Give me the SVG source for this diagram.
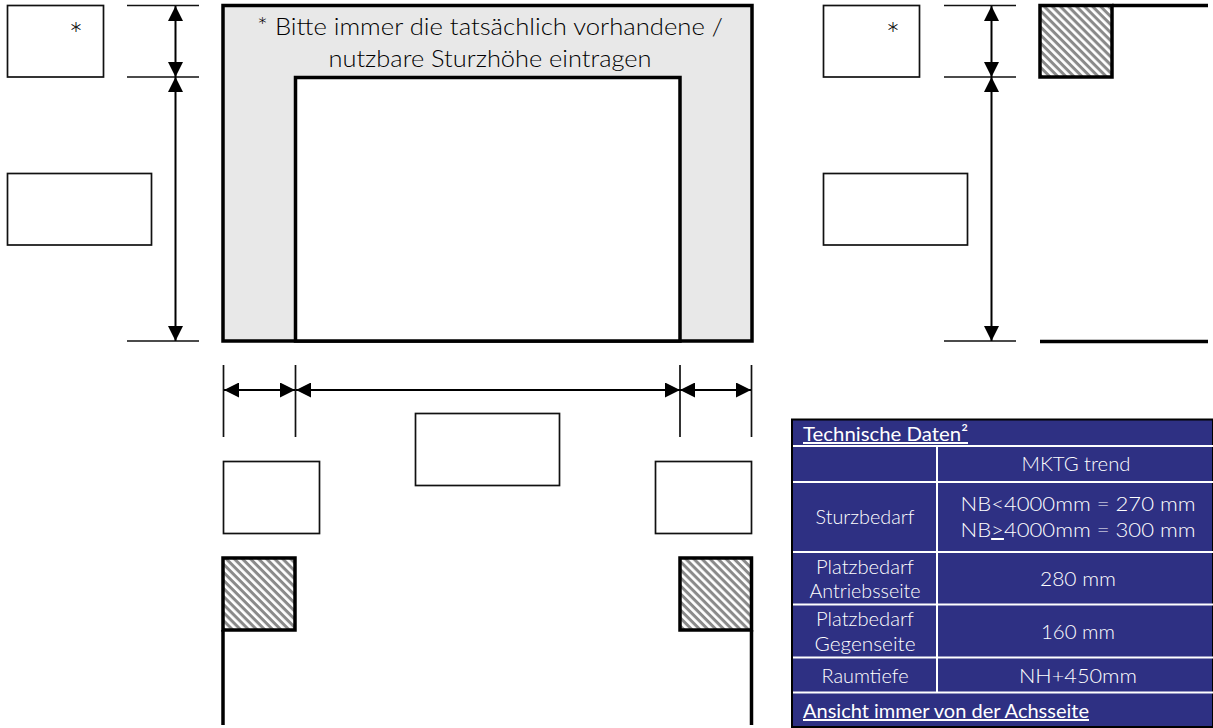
<svg xmlns="http://www.w3.org/2000/svg" width="1213" height="728" viewBox="0 0 1213 728">
<style>
text{font-family:"Lato","Noto Sans","Liberation Sans",sans-serif;font-weight:300}
.box{fill:#fff;stroke:#111;stroke-width:1.7}
.thin{fill:none;stroke:#111;stroke-width:1.7}
.dim{fill:none;stroke:#000;stroke-width:2;marker-start:url(#arr);marker-end:url(#arr)}
.thick{fill:none;stroke:#000;stroke-width:3.5}
.hatch{fill:url(#h);stroke:#000;stroke-width:3.5}
.star{font-size:34px;fill:#000;text-anchor:middle;font-weight:300}
.note{font-size:24px;fill:#000;text-anchor:middle}
.c{font-size:20px;fill:#fff;text-anchor:middle}
.h{font-size:20px;fill:#fff;text-decoration:underline;font-weight:400}
.w{fill:none;stroke:#fff;stroke-width:2}
</style>
<defs>
<marker id="arr" viewBox="0 0 15 15" refX="15" refY="7.500" markerUnits="userSpaceOnUse" markerWidth="15" markerHeight="15" orient="auto-start-reverse"><path d="M15 7.500L0 0V15Z" fill="#000"/></marker>
<pattern id="h" width="5.700" height="5.700" patternUnits="userSpaceOnUse" patternTransform="rotate(45)"><rect width="5.700" height="5.700" fill="#fff"/><rect width="5.700" height="3" fill="#8a8a8a"/></pattern>
</defs>
<g id="frame">
<rect x="223" y="5.500" width="529" height="335.500" fill="#e8e8e8" stroke="#000" stroke-width="3.500"/>
<path d="M295.500 341V77.500H680V341Z" fill="#fff" stroke="#000" stroke-width="3.500"/>
<text class="note" x="490" y="35" textLength="466" lengthAdjust="spacingAndGlyphs">* Bitte immer die tatsächlich vorhandene /</text>
<text class="note" x="490" y="67" textLength="323" lengthAdjust="spacingAndGlyphs">nutzbare Sturzhöhe eintragen</text>
</g>
<g id="box-sturz-left"><rect class="box" x="7.500" y="5.500" width="96" height="71.500"/><text class="star" x="76" y="47">*</text></g>
<g id="box-height-left"><rect class="box" x="7.500" y="173.500" width="144" height="71.500"/></g>
<g id="box-width"><rect class="box" x="415.500" y="413.500" width="144" height="72"/></g>
<g id="box-side-left"><rect class="box" x="223.500" y="461.500" width="96" height="72"/></g>
<g id="box-side-right"><rect class="box" x="655.500" y="461.500" width="96" height="72"/></g>
<g id="box-sturz-right"><rect class="box" x="823.500" y="5.500" width="96" height="71.500"/><text class="star" x="893" y="47">*</text></g>
<g id="box-height-right"><rect class="box" x="823.500" y="173.500" width="144" height="71.500"/></g>
<g id="post-left"><rect class="hatch" x="223" y="558" width="72" height="72"/><path class="thick" d="M223 630V725"/></g>
<g id="post-right"><rect class="hatch" x="680" y="558" width="71.500" height="72"/><path class="thick" d="M751.500 630V725"/></g>
<g id="post-top-right"><rect class="hatch" x="1040" y="5.500" width="72" height="71.500"/><path class="thick" d="M1112 5.500H1208"/></g>
<g id="floor-right"><path class="thick" d="M1040 341.500H1208"/></g>
<g id="connectors">
<path class="thin" d="M127 5.500H199M127 77H199M127 341H199M944 5.500H1016M944 77H1016M944 341H1016M223.500 365V437M295.500 365V437M680 365V437M751.500 365V437"/>
<path class="dim" d="M175.500 6V77"/>
<path class="dim" d="M175.500 77V341"/>
<path class="dim" d="M991.500 6V77"/>
<path class="dim" d="M991.500 77V341"/>
<path class="dim" d="M224 390H295"/>
<path class="dim" d="M296 390H680"/>
<path class="dim" d="M680 390H751"/>
</g>
<g id="table">
<rect x="792" y="419.500" width="421" height="307.500" fill="#2e3083" stroke="#000" stroke-width="2"/>
<path class="w" d="M793 446H1213M793 482H1213M793 552H1213M793 604.500H1213M793 657.500H1213M793 692.500H1213M937 446V692.500"/>
<text class="h" x="803" y="441" textLength="165" lengthAdjust="spacingAndGlyphs">Technische Daten²</text>
<text class="c" x="1076" y="471" textLength="109" lengthAdjust="spacingAndGlyphs">MKTG trend</text>
<text class="c" x="865" y="524" textLength="99" lengthAdjust="spacingAndGlyphs">Sturzbedarf</text>
<text class="c" x="1078" y="511" textLength="235" lengthAdjust="spacingAndGlyphs">NB&lt;4000mm = 270 mm</text>
<text class="c" x="1078" y="537" textLength="235" lengthAdjust="spacingAndGlyphs">NB<tspan text-decoration="underline">&gt;</tspan>4000mm = 300 mm</text>
<text class="c" x="865" y="574" textLength="98" lengthAdjust="spacingAndGlyphs">Platzbedarf</text>
<text class="c" x="865" y="598" textLength="111" lengthAdjust="spacingAndGlyphs">Antriebsseite</text>
<text class="c" x="1078" y="586" textLength="76" lengthAdjust="spacingAndGlyphs">280 mm</text>
<text class="c" x="865" y="626" textLength="98" lengthAdjust="spacingAndGlyphs">Platzbedarf</text>
<text class="c" x="865" y="651" textLength="101" lengthAdjust="spacingAndGlyphs">Gegenseite</text>
<text class="c" x="1078" y="639" textLength="74" lengthAdjust="spacingAndGlyphs">160 mm</text>
<text class="c" x="865" y="683" textLength="87" lengthAdjust="spacingAndGlyphs">Raumtiefe</text>
<text class="c" x="1078" y="683" textLength="118" lengthAdjust="spacingAndGlyphs">NH+450mm</text>
<text class="h" x="803" y="718" textLength="286" lengthAdjust="spacingAndGlyphs">Ansicht immer von der Achsseite</text>
</g>
</svg>
